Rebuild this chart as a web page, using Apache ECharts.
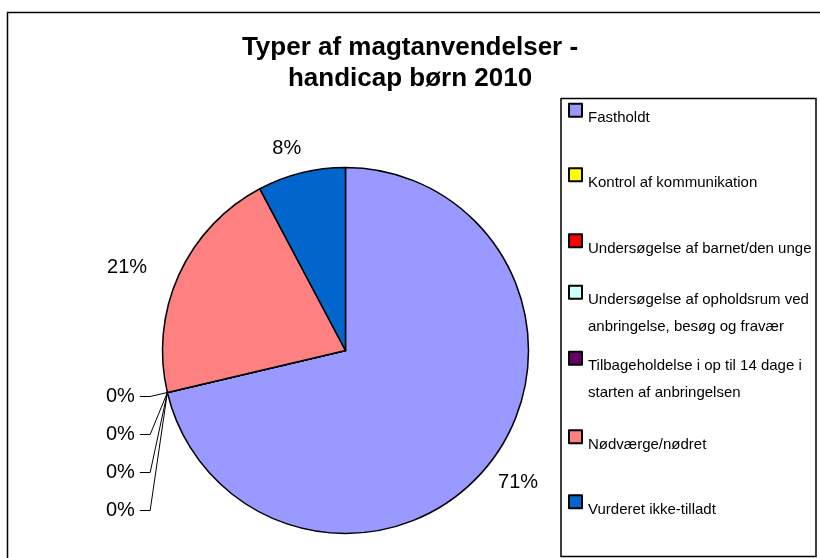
<!DOCTYPE html>
<html>
<head>
<meta charset="utf-8">
<script src="https://cdn.jsdelivr.net/npm/echarts@6/dist/echarts.min.js"></script>
<style>
  html, body { margin: 0; padding: 0; background: #fff; }
  #chart { width: 820px; height: 558px; }
</style>
</head>
<body>
<div id="chart"></div>
<script>
// ---- data ----
const titleText = 'Typer af magtanvendelser -\nhandicap børn 2010';
const categories = [
  'Fastholdt',
  'Kontrol af kommunikation',
  'Undersøgelse af barnet/den unge',
  'Undersøgelse af opholdsrum ved anbringelse, besøg og fravær',
  'Tilbageholdelse i op til 14 dage i starten af anbringelsen',
  'Nødværge/nødret',
  'Vurderet ikke-tilladt'
];
const values = [92, 0, 0, 0, 0, 27, 10];

// ---- style / layout ----
const FONT = '"Liberation Sans", Arial, sans-serif';
const colors = ['#9999FF', '#FFFF00', '#FF0000', '#CCFFFF', '#660066', '#FF8080', '#0066CC'];
const lineLen  = [30.4, 17.7, 17.7, 17.7, 17.7, 16.7, 25.6];
const lineLen2 = [-19.8, 10.3, 10.3, 10.3, 10.3, 11.6, -11];
const showLine = [false, true, true, true, true, false, false];
const legendCenters = [117, 181.5, 247.5, 312.5, 378.5, 443.5, 508.5];
const LH = 27;
const WRAP = 228;

// simple greedy word wrap measured with the legend font
const ctx = document.createElement('canvas').getContext('2d');
ctx.font = '15px ' + FONT;
function wrap(text) {
  const words = text.split(' ');
  const lines = [];
  let cur = '';
  words.forEach(w => {
    const t = cur ? cur + ' ' + w : w;
    if (cur && ctx.measureText(t).width > WRAP) { lines.push(cur); cur = w; }
    else cur = t;
  });
  if (cur) lines.push(cur);
  return lines;
}

const chart = echarts.init(document.getElementById('chart'), null, { renderer: 'canvas' });

const pieData = categories.map((name, i) => ({
  name: name,
  value: values[i],
  itemStyle: { color: colors[i] },
  label: values[i] === 0 ? { lineHeight: 36 } : {},
  labelLine: { show: showLine[i], length: lineLen[i], length2: lineLen2[i] }
}));

const legends = categories.map((name, i) => {
  const lines = wrap(name);
  const n = lines.length;
  const X = n === 1 ? 15.6 : 42.6;
  return {
    show: true,
    orient: 'vertical',
    left: 568,
    top: legendCenters[i] - (X + n * LH) / 2,
    padding: 0,
    itemGap: 0,
    itemWidth: 13,
    itemHeight: 13,
    icon: 'rect',
    selectedMode: false,
    itemStyle: { borderColor: '#000', borderWidth: 2 },
    formatter: () => '{sp| }\n' + lines.map(l => '{t|' + l + '}').join('\n'),
    textStyle: {
      fontFamily: FONT,
      fontSize: 15,
      color: '#000',
      rich: {
        sp: { lineHeight: X, fontSize: 2, padding: [0, 0, 0, 1] },
        t: { lineHeight: LH, fontSize: 15, fontFamily: FONT, color: '#000', padding: [0, 0, 0, 1] }
      }
    },
    data: [name]
  };
});

chart.setOption({
  backgroundColor: '#fff',
  animation: false,
  title: {
    text: titleText,
    left: 'center',
    top: 32,
    padding: 0,
    textStyle: {
      fontFamily: FONT,
      fontSize: 26,
      fontWeight: 'bold',
      color: '#000',
      lineHeight: 31
    }
  },
  legend: legends,
  graphic: [
    {
      type: 'rect', z: 0, silent: true,
      shape: { x: 7.5, y: 12.5, width: 900, height: 700 },
      style: { fill: '#fff', stroke: '#000', lineWidth: 1.5 }
    },
    {
      type: 'rect', z: 1, silent: true,
      shape: { x: 561, y: 98.5, width: 255, height: 458 },
      style: { fill: '#fff', stroke: '#000', lineWidth: 1.5 }
    }
  ],
  series: [{
    type: 'pie',
    center: [345.5, 350.5],
    radius: 183,
    startAngle: 90,
    clockwise: true,
    avoidLabelOverlap: true,
    z: 3,
    itemStyle: { borderColor: '#000', borderWidth: 1.5 },
    label: {
      show: true,
      position: 'outside',
      alignTo: 'labelLine',
      distanceToLabelLine: 5,
      fontFamily: FONT,
      fontSize: 20,
      color: '#000',
      formatter: p => Math.round(p.percent) + '%'
    },
    labelLine: { lineStyle: { color: '#000', width: 1 }, smooth: false },
    emphasis: { disabled: true },
    data: pieData
  }]
});
</script>
</body>
</html>
